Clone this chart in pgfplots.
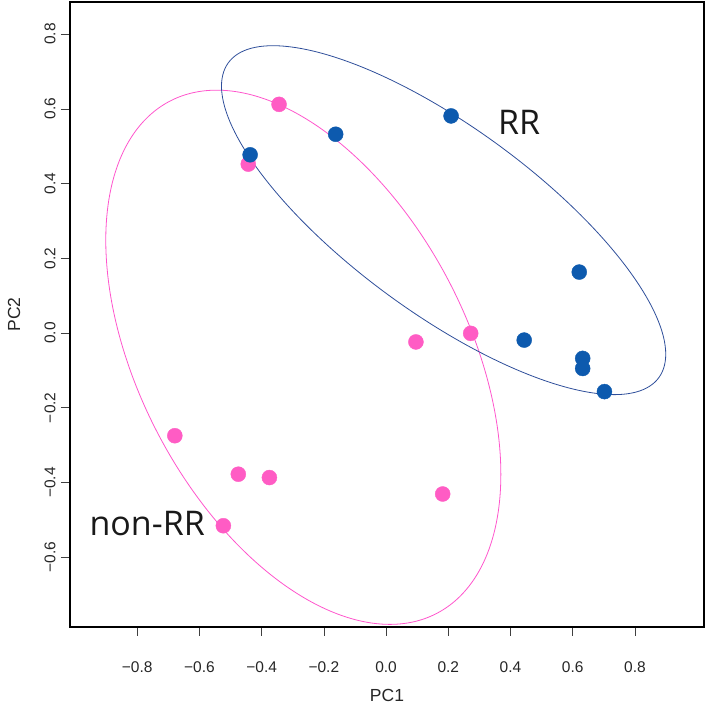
\documentclass[border=0pt]{standalone}
\usepackage{pgfplots}
\pgfplotsset{compat=1.18}
\usepackage{fontspec}
\setmainfont{Liberation Sans}
\newfontfamily\annofont{Open Sans}
\definecolor{bluept}{HTML}{0D5AAE}
\definecolor{blueline}{HTML}{2E4E9A}
\definecolor{pinkpt}{HTML}{FF5CC4}
\definecolor{pinkline}{HTML}{FF55CC}
\begin{document}
\begin{tikzpicture}
\useasboundingbox (-70pt,-81pt) rectangle (639pt,627pt);
\begin{axis}[
  at={(0,0)}, anchor=south west,
  scale only axis, width=634pt, height=625pt,
  xmin=-1.016, xmax=1.022, ymin=-0.787, ymax=0.886,
  axis line style={line width=2.2pt, black},
  tick align=outside, tick pos=left,
  major tick length=9pt,
  tick style={line width=0.6pt, black!75},
  xtick={-0.8,-0.6,-0.4,-0.2,0,0.2,0.4,0.6,0.8},
  xticklabels={−0.8,−0.6,−0.4,−0.2,0.0,0.2,0.4,0.6,0.8},
  ytick={-0.6,-0.4,-0.2,0,0.2,0.4,0.6,0.8},
  yticklabels={−0.6,−0.4,−0.2,0.0,0.2,0.4,0.6,0.8},
  ticklabel style={font=\fontsize{15.5}{15.5}\selectfont, text=black!85},
  xticklabel style={anchor=center, yshift=-31pt},
  yticklabel style={anchor=center, xshift=-11pt, rotate=90},
  xlabel={PC1}, ylabel={PC2},
  label style={font=\fontsize{17.5}{17.5}\selectfont, text=black!85},
  xlabel style={at={(axis description cs:0.5,-0.1088)}, anchor=center},
  ylabel style={at={(axis description cs:-0.0883,0.5)}, anchor=center, rotate=0},
  clip=false,
]
% confidence ellipses
\addplot[pinkline, line width=0.8pt, domain=0:360, samples=181, variable=\t, smooth]
  ({-0.266+0.635*cos(t)}, {-0.065+0.715*cos(t-116)});
\addplot[blueline, line width=0.8pt, domain=0:360, samples=181, variable=\t, smooth]
  ({0.185+0.714*cos(t)}, {0.302+0.467*cos(t-140.2)});
% non-RR samples
\addplot[only marks, mark=*, mark size=7.5pt, mark options={fill=pinkpt, draw=pinkpt}]
  coordinates {
  (-0.344,0.612) (-0.443,0.452) (0.096,-0.024) (0.272,-0.001)
  (-0.679,-0.275) (-0.475,-0.378) (-0.375,-0.387) (-0.523,-0.516) (0.182,-0.431)
  };
% RR samples
\addplot[only marks, mark=*, mark size=7.5pt, mark options={fill=bluept, draw=bluept}]
  coordinates {
  (-0.437,0.477) (-0.162,0.532) (0.209,0.581) (0.621,0.163)
  (0.444,-0.019) (0.632,-0.068) (0.632,-0.095) (0.702,-0.157)
  };
\node[font=\annofont\fontsize{34}{34}\selectfont, text=black!90] at (axis cs:0.428,0.565) {RR};
\node[font=\annofont\fontsize{34}{34}\selectfont, text=black!90] at (axis cs:-0.768,-0.509) {non-RR};
\end{axis}
\end{tikzpicture}
\end{document}
